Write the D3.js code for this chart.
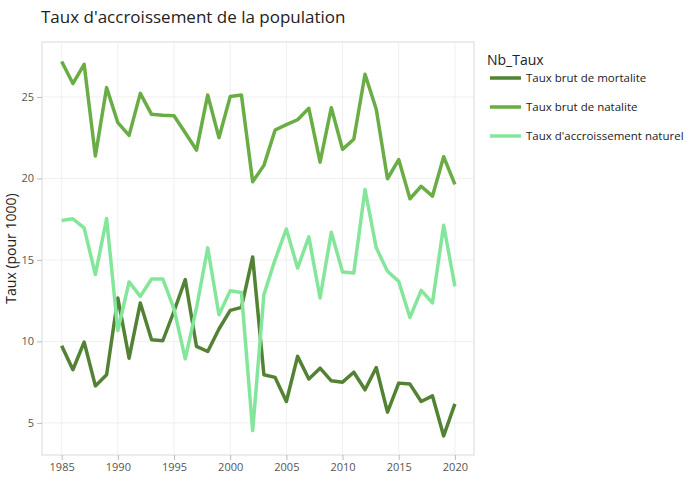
<!DOCTYPE html>
<html><head><meta charset="utf-8">
<script src="https://cdn.jsdelivr.net/npm/d3@7"></script>
<style>body{margin:0;background:#fff;} svg{font-family:"Open Sans",sans-serif;}</style>
</head><body>
<svg id="c" width="700" height="500"></svg>
<script>
const years = d3.range(1985, 2021);
const mortalite = [9.73,8.26,9.96,7.27,7.95,12.66,8.97,12.36,10.10,10.04,11.85,13.79,9.69,9.38,10.76,11.90,12.09,15.18,7.95,7.79,6.31,9.08,7.69,8.36,7.58,7.50,8.11,7.03,8.40,5.66,7.44,7.38,6.31,6.66,4.20,6.17];
const natalite = [27.17,25.82,27.00,21.37,25.57,23.42,22.64,25.22,23.93,23.87,23.85,22.80,21.74,25.12,22.50,25.02,25.12,19.79,20.80,22.97,23.30,23.60,24.30,21.00,24.34,21.78,22.40,26.39,24.24,19.98,21.16,18.75,19.52,18.91,21.33,19.63];
const accroissement = [17.42,17.52,16.97,14.10,17.54,10.67,13.65,12.76,13.83,13.83,12.00,8.93,12.05,15.74,11.64,13.11,13.00,4.53,12.87,15.02,16.90,14.50,16.41,12.66,16.70,14.26,14.20,19.32,15.74,14.30,13.68,11.47,13.13,12.36,17.13,13.38];
const seriesNames = ["Taux brut de mortalite","Taux brut de natalite","Taux d'accroissement naturel"];
const seriesColors = ["#548235","#6aad45","#84e69b"];
const xTicks = [1985,1990,1995,2000,2005,2010,2015,2020];
const yTicks = [5,10,15,20,25];
const seriesValues = [mortalite, natalite, accroissement];

const svg = d3.select("#c");
const L=42, R=474, T=42, B=455;
const x = d3.scaleLinear().domain([1983.25, 2021.7]).range([L, R]);
const y = d3.scaleLinear().domain([3.03, 28.37]).range([B, T]);

// gridlines
svg.append("g").selectAll("line").data(xTicks).join("line")
  .attr("x1", d=>x(d)).attr("x2", d=>x(d)).attr("y1", T).attr("y2", B)
  .attr("stroke", "#f0f0f0").attr("stroke-width", 1);
svg.append("g").selectAll("line").data(yTicks).join("line")
  .attr("y1", d=>y(d)).attr("y2", d=>y(d)).attr("x1", L).attr("x2", R)
  .attr("stroke", "#f0f0f0").attr("stroke-width", 1);

// frame
svg.append("rect").attr("x", L).attr("y", T).attr("width", R-L).attr("height", B-T)
  .attr("fill", "none").attr("stroke", "#e6e6e6").attr("stroke-width", 1.5);

// axes
const xAxis = svg.append("g").attr("transform", `translate(0,${B})`)
  .call(d3.axisBottom(x).tickValues(xTicks).tickFormat(d3.format("d")).tickSize(5).tickPadding(3));
const yAxis = svg.append("g").attr("transform", `translate(${L},0)`)
  .call(d3.axisLeft(y).tickValues(yTicks).tickSize(5).tickPadding(3));
[xAxis, yAxis].forEach(a => {
  a.select(".domain").remove();
  a.selectAll(".tick line").attr("stroke", "#bbb");
  a.selectAll("text").attr("fill", "#555").attr("font-size", 11).attr("font-family", "Open Sans");
});

// lines
const line = d3.line().x((d,i)=>x(years[i])).y(d=>y(d));
seriesValues.forEach((vals, k) => {
  svg.append("path").datum(vals).attr("d", line)
    .attr("fill", "none").attr("stroke", seriesColors[k]).attr("stroke-width", 3.5)
    .attr("stroke-linejoin", "round");
});

// title
svg.append("text").attr("x", 41).attr("y", 23).attr("font-size", 17).attr("fill", "#222")
  .text("Taux d'accroissement de la population");

// y title
svg.append("text").attr("transform", `translate(16,${(T+B)/2}) rotate(-90)`)
  .attr("text-anchor", "middle").attr("font-size", 14).attr("fill", "#222")
  .text("Taux (pour 1000)");

// legend
const lg = svg.append("g");
lg.append("text").attr("x", 487).attr("y", 65).attr("font-size", 14).attr("fill", "#222").text("Nb_Taux");
seriesNames.forEach((n, k) => {
  const yy = 78 + k*29;
  lg.append("line").attr("x1", 490).attr("x2", 521).attr("y1", yy).attr("y2", yy)
    .attr("stroke", seriesColors[k]).attr("stroke-width", 3.5);
  lg.append("text").attr("x", 526).attr("y", yy+4).attr("font-size", 11.5).attr("fill", "#222").text(n);
});
</script>
</body></html>
